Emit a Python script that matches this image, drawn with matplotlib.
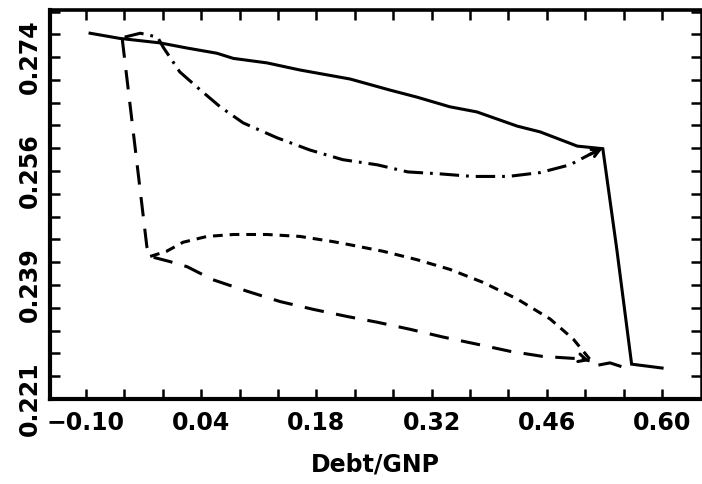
import matplotlib
matplotlib.use("Agg")
import matplotlib.pyplot as plt
import numpy as np

# ---- data ----
solid_x = [-0.095, -0.059, -0.010, 0.023, 0.059, 0.079, 0.120, 0.160, 0.221, 0.269,
           0.302, 0.342, 0.375, 0.424, 0.452, 0.497, 0.528, 0.545, 0.563, 0.600]
solid_y = [0.2777, 0.2769, 0.2762, 0.2754, 0.2746, 0.2738, 0.2731, 0.2720, 0.2706, 0.2689,
           0.2678, 0.2663, 0.2655, 0.2633, 0.2624, 0.2602, 0.2598, 0.2442, 0.2264, 0.2258]

longdash_x = [-0.056, -0.026, -0.022, 0.002, 0.023, 0.054, 0.096, 0.136, 0.176, 0.217,
              0.254, 0.294, 0.334, 0.375, 0.415, 0.455, 0.504, 0.512]
longdash_y = [0.2769, 0.2446, 0.2431, 0.2423, 0.2415, 0.2395, 0.2377, 0.2361, 0.2349, 0.2338,
              0.2329, 0.2318, 0.2306, 0.2295, 0.2284, 0.2276, 0.2272, 0.2269]

tail_x = [0.5245, 0.5367, 0.5488]
tail_y = [0.2263, 0.2266, 0.2261]

shortdash_x = [-0.022, -0.002, 0.018, 0.047, 0.079, 0.120, 0.160, 0.200, 0.221, 0.261,
               0.302, 0.342, 0.382, 0.424, 0.464, 0.492, 0.512]
shortdash_y = [0.2431, 0.2439, 0.2453, 0.2462, 0.2465, 0.2465, 0.2462, 0.2454, 0.2449, 0.2439,
               0.2426, 0.2411, 0.2391, 0.2365, 0.2334, 0.2303, 0.2272]

dashdot_x = [-0.053, -0.034, -0.013, -0.006, 0.014, 0.039, 0.063, 0.091, 0.132, 0.172,
             0.212, 0.254, 0.291, 0.330, 0.370, 0.413, 0.452, 0.488, 0.512, 0.528]
dashdot_y = [0.2771, 0.2777, 0.2771, 0.2755, 0.2717, 0.2689, 0.2663, 0.2638, 0.2615, 0.2596,
             0.2581, 0.2573, 0.2562, 0.2559, 0.2555, 0.2555, 0.2561, 0.2573, 0.2589, 0.2599]

x_tick_vals = [-0.10, 0.04, 0.18, 0.32, 0.46, 0.60]
x_tick_labels = ["\u22120.10", "0.04", "0.18", "0.32", "0.46", "0.60"]
y_tick_vals = [0.221, 0.221 + 0.053 / 3, 0.221 + 2 * 0.053 / 3, 0.274]
y_tick_labels = ["0.221", "0.239", "0.256", "0.274"]
x_label = "Debt/GNP"

# ---- figure ----
plt.rcParams['lines.scale_dashes'] = False
plt.rcParams['font.family'] = ['DejaVu Sans']

fig = plt.figure(figsize=(7.02, 4.84), dpi=100)
ax = fig.add_axes([50 / 702, 1 - 399 / 484, 651 / 702, 389 / 484])

lw = 2.2
ax.plot(solid_x, solid_y, color='black', lw=lw, solid_joinstyle='miter')
ax.plot(longdash_x, longdash_y, color='black', lw=lw, dashes=(14, 9))
ax.plot(tail_x, tail_y, color='black', lw=lw)
ax.plot(shortdash_x, shortdash_y, color='black', lw=lw, dashes=(7, 5))
ax.plot(dashdot_x, dashdot_y, color='black', lw=lw, dashes=(14, 5, 2, 5))

# arrow heads at the ends of the transition paths
for xs, ys in [(dashdot_x, dashdot_y), (longdash_x, longdash_y)]:
    ax.annotate('', xy=(xs[-1], ys[-1]), xytext=(xs[-2], ys[-2]),
                arrowprops=dict(arrowstyle='->', color='black', lw=lw,
                                mutation_scale=14, shrinkA=0, shrinkB=0))

ax.set_xlim(-0.1437, 0.6473)
ax.set_ylim(0.221, 0.2813)

step_x = 0.14 / 3
ax.set_xticks(x_tick_vals)
ax.set_xticklabels(x_tick_labels)
ax.set_xticks(np.arange(-0.10 + step_x, 0.60, step_x), minor=True)
step_y = 0.053 / 15
ax.set_yticks(y_tick_vals)
ax.set_yticklabels(y_tick_labels)
ax.set_yticks(0.221 + step_y * np.arange(0, 18), minor=True)

ax.tick_params(which='both', direction='in', top=True, right=True,
               length=7, width=1.8, color='black')
ax.tick_params(axis='x', which='major', labelsize=17, pad=9)
ax.tick_params(axis='y', which='major', labelsize=17, pad=6)
for lab in ax.get_xticklabels() + ax.get_yticklabels():
    lab.set_fontweight('bold')
for lab in ax.get_yticklabels():
    lab.set_rotation(90)
    lab.set_verticalalignment('center')

for side, w in [('left', 3.0), ('bottom', 3.0), ('top', 2.6), ('right', 1.8)]:
    ax.spines[side].set_linewidth(w)

ax.set_xlabel(x_label, fontsize=17, fontweight='bold', labelpad=12)

fig.savefig("out.png", dpi=100, facecolor='white')
